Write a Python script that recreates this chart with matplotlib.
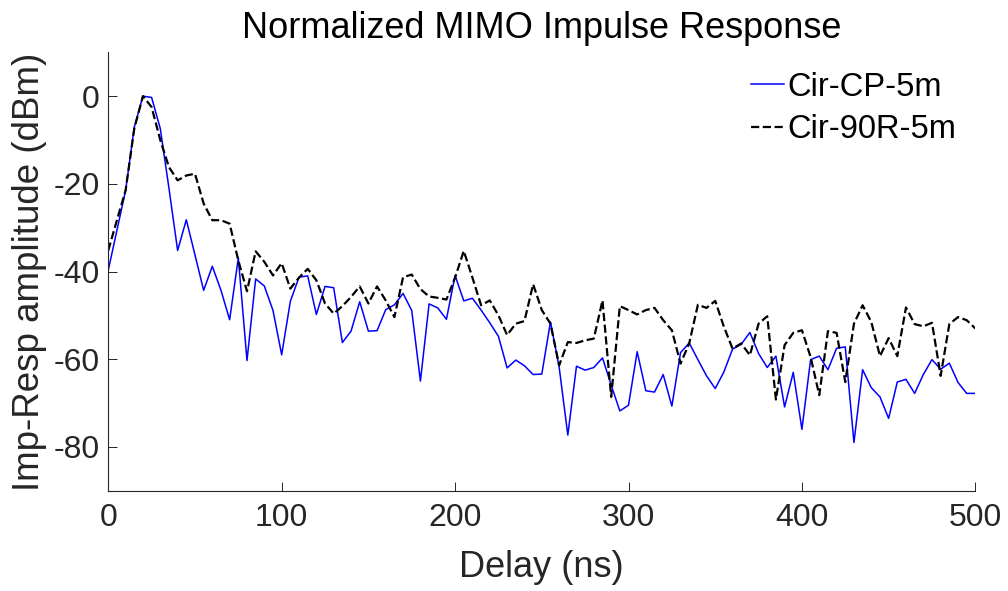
import matplotlib
matplotlib.use("Agg")
import matplotlib.pyplot as plt
import numpy as np

# delay axis, one sample every 5 ns
delay_ns = np.arange(0, 505, 5)

cir_cp_5m = [
    -39.7, -30.6, -21.5, -7.1, 0.0, -0.3, -7.4, -21.0, -35.2, -28.2,
    -36.2, -44.3, -38.8, -44.3, -51.0, -36.9, -60.3, -41.7, -43.3, -48.9,
    -59.0, -46.8, -41.3, -41.0, -49.8, -43.4, -43.7, -56.2, -53.6, -46.9,
    -53.6, -53.5, -48.7, -47.6, -45.0, -48.9, -65.0, -47.4, -48.3, -50.9,
    -40.9, -46.7, -46.1, -48.8, -51.7, -54.8, -62.0, -60.2, -61.5, -63.5,
    -63.4, -51.5, -61.8, -77.3, -61.6, -62.5, -61.9, -59.7, -65.9, -71.8,
    -70.5, -58.3, -67.2, -67.5, -63.5, -70.7, -58.5, -56.3, -60.1, -63.8,
    -66.7, -62.9, -57.7, -56.6, -53.9, -58.7, -61.9, -59.3, -70.9, -63.0,
    -76.0, -60.1, -59.3, -62.4, -57.5, -57.2, -79.0, -62.4, -66.5, -68.6,
    -73.5, -65.2, -64.6, -67.8, -63.5, -60.1, -62.3, -60.9, -65.3, -67.8,
    -67.8,
]

cir_90r_5m = [
    -35.2, -28.3, -21.5, -7.4, 0.0, -2.5, -10.0, -16.2, -19.2, -18.1,
    -17.7, -24.5, -28.3, -28.3, -29.1, -37.5, -44.5, -35.4, -37.8, -40.9,
    -38.1, -43.9, -41.4, -39.4, -42.0, -47.3, -49.6, -47.9, -45.8, -43.4,
    -47.3, -43.4, -46.6, -50.4, -41.3, -40.7, -44.0, -45.7, -46.0, -46.4,
    -41.4, -35.3, -41.4, -47.7, -46.6, -50.0, -54.5, -51.9, -51.3, -42.9,
    -48.8, -51.9, -61.4, -56.1, -56.3, -55.7, -55.3, -46.6, -68.6, -47.9,
    -48.8, -49.8, -48.8, -48.3, -51.1, -53.4, -61.0, -56.4, -47.6, -48.3,
    -46.7, -52.6, -57.6, -56.4, -59.1, -51.9, -50.2, -69.2, -56.8, -54.0,
    -53.4, -59.5, -68.2, -53.6, -54.0, -65.2, -51.9, -47.7, -51.5, -59.3,
    -55.2, -59.3, -48.2, -52.0, -52.5, -51.7, -63.8, -52.0, -50.4, -51.1,
    -53.0,
]

x_ticks = [0, 100, 200, 300, 400, 500]
y_ticks = [-80, -60, -40, -20, 0]

plt.rcParams["font.family"] = ["Liberation Sans", "DejaVu Sans"]
plt.rcParams["axes.unicode_minus"] = False

fig = plt.figure(figsize=(10.08, 5.91), dpi=100)
ax = fig.add_axes([0.1074, 0.1697, 0.8602, 0.7418])

ax.plot(delay_ns, cir_cp_5m, color="#0000ff", lw=1.1, label="Cir-CP-5m")
ax.plot(delay_ns, cir_90r_5m, color="black", lw=1.6, ls="--", label="Cir-90R-5m")

ax.set_xlim(0, 500)
ax.set_ylim(-90, 10)
ax.set_xticks(x_ticks)
ax.set_yticks(y_ticks)

axis_col = "#262626"
for side in ["top", "right"]:
    ax.spines[side].set_visible(False)
for side in ["left", "bottom"]:
    ax.spines[side].set_color(axis_col)
    ax.spines[side].set_linewidth(0.8)

ax.tick_params(direction="in", length=6.5, width=0.7, colors=axis_col,
               labelsize=23)
ax.tick_params(axis="x", pad=9)
ax.tick_params(axis="y", pad=6)
for lab in ax.get_xticklabels() + ax.get_yticklabels():
    lab.set_color(axis_col)

ax.set_xlabel("Delay (ns)", fontsize=26, color=axis_col, labelpad=12)
ax.set_ylabel("Imp-Resp amplitude (dBm)", fontsize=26.5, color=axis_col, labelpad=5)
ax.set_title("Normalized MIMO Impulse Response", fontsize=26, pad=10)

ax.legend(loc="upper right", frameon=False, fontsize=23.5, handlelength=1.0,
          handletextpad=0.1, labelspacing=0.35, borderaxespad=0.2,
          bbox_to_anchor=(1.0, 1.0))

fig.savefig("out.png", dpi=100)
